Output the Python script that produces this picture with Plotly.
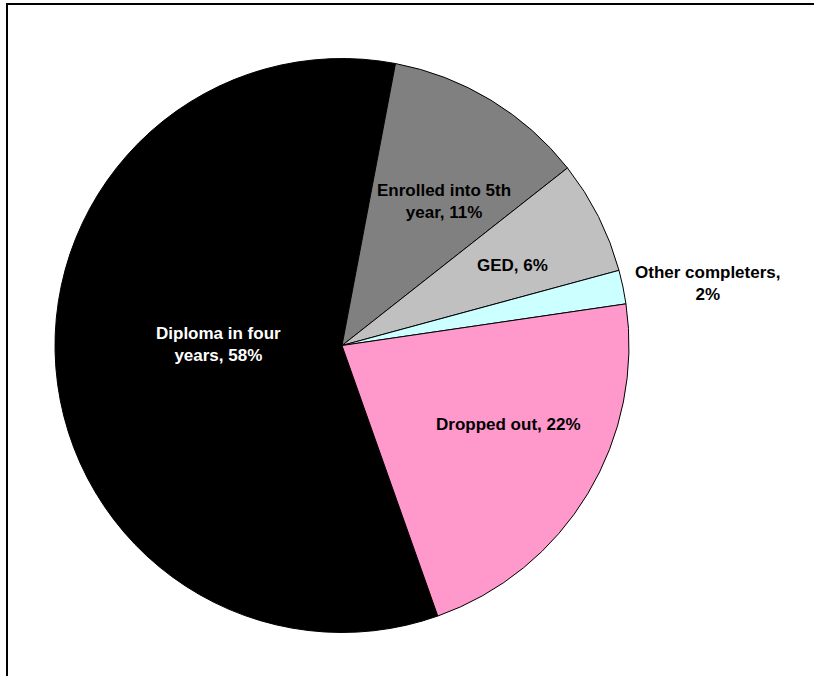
import plotly.graph_objects as go

# ---- data ----
labels = ["Diploma in four years", "Enrolled into 5th year", "GED", "Other completers", "Dropped out"]
values = [58.4, 11.4, 6.4, 1.9, 21.9]
label_text = ["Diploma in four<br>years, 58%", "Enrolled into 5th<br>year, 11%", "GED, 6%",
              "Other completers,<br>2%", "Dropped out, 22%"]
colors = ["#000000", "#808080", "#C0C0C0", "#CCFFFF", "#FF99CC"]
text_colors = ["#FFFFFF", "#000000", "#000000", "#000000", "#000000"]

W, H = 814, 676
# label anchor positions in pixels (layout)
label_px = [(218, 344), (444, 201), (512, 265), (708, 283), (508, 424)]

fig = go.Figure(go.Pie(
    labels=labels,
    values=values,
    marker=dict(colors=colors, line=dict(color="#000000", width=1)),
    sort=False,
    direction="clockwise",
    rotation=160.5,
    textinfo="none",
    hoverinfo="label+percent",
    domain=dict(x=[55 / W, 629 / W], y=[1 - 632.5 / H, 1 - 58.5 / H]),
    showlegend=False,
))

for t, c, (px, py) in zip(label_text, text_colors, label_px):
    fig.add_annotation(
        x=px / W, y=1 - py / H, xref="paper", yref="paper",
        text="<b>" + t + "</b>", showarrow=False,
        font=dict(family="Liberation Sans, Arial, sans-serif", size=17, color=c),
        xanchor="center", yanchor="middle", align="center",
    )

fig.add_shape(type="rect", xref="paper", yref="paper",
              x0=7 / W, x1=1.2, y0=-0.2, y1=1 - 4 / H,
              line=dict(color="#000000", width=2), fillcolor="rgba(0,0,0,0)")

fig.update_layout(
    width=W, height=H,
    margin=dict(l=0, r=0, t=0, b=0),
    paper_bgcolor="#FFFFFF", plot_bgcolor="#FFFFFF",
)

fig.write_html("out.html", config={"displayModeBar": False},
               post_script="document.body.style.margin='0';document.body.style.overflow='hidden';")
